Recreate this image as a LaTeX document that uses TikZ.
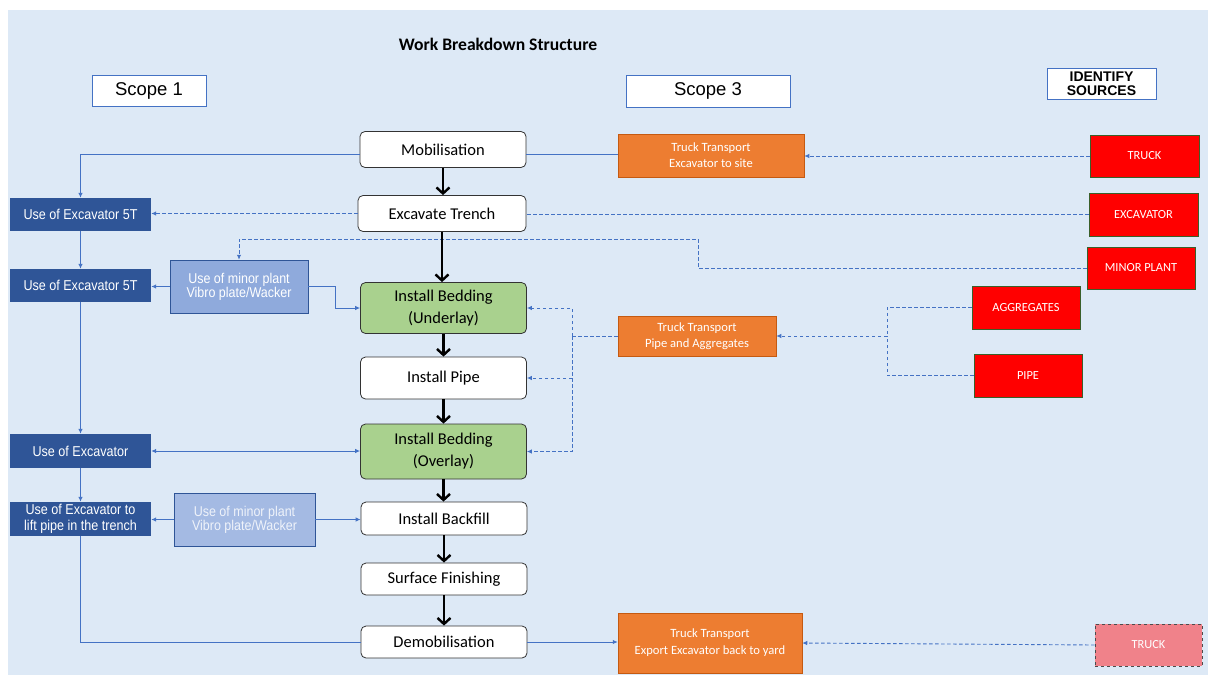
\documentclass[tikz,border=0pt]{standalone}
\usepackage{fontspec}
\setmainfont{Carlito}
\newfontfamily\arialn[FakeStretch=0.88]{Liberation Sans}
\newfontfamily\arial{Liberation Sans}
\usetikzlibrary{arrows.meta,calc}
\definecolor{bg}{HTML}{DDE9F6}
\definecolor{conc}{HTML}{4472C4}
\definecolor{dkb}{HTML}{2F5597}
\definecolor{ltb}{HTML}{8FAADC}
\definecolor{ltb2}{HTML}{A4BAE3}
\definecolor{grn}{HTML}{A9D18E}
\definecolor{org}{HTML}{ED7D31}
\definecolor{orgd}{HTML}{C55A11}
\definecolor{redd}{HTML}{3A5F2A}
\definecolor{pink}{HTML}{F0828A}
\tikzset{
  stepbox/.style={draw=black!80, line width=0.8pt, rounded corners=5pt, fill=white, minimum width=166pt, minimum height=36pt, font=\fontsize{16.5}{20}\selectfont, align=center, inner sep=1pt},
  greenbox/.style={stepbox, fill=grn},
  dkbox/.style={fill=dkb, text=white, minimum width=141pt, minimum height=33pt, font=\arialn\fontsize{14.3}{15}\selectfont, align=center, inner sep=1pt},
  ltbox/.style={fill=ltb, draw=dkb, line width=0.5pt, text=white, minimum width=138pt, minimum height=53pt, font=\arialn\fontsize{14.2}{14}\selectfont, align=center, inner sep=1pt},
  orgbox/.style={fill=org, draw=orgd, line width=0.5pt, text=white, font=\fontsize{12.6}{16}\selectfont, align=center, inner sep=1pt},
  redbox/.style={fill=red, draw=redd, line width=0.6pt, text=white, minimum width=108pt, minimum height=42pt, font=\fontsize{12.4}{14}\selectfont, align=center, inner sep=1pt},
  scopebox/.style={fill=white, draw=conc, line width=0.6pt, font=\arial\fontsize{18.5}{20}\selectfont, align=center, inner sep=1pt},
  conn/.style={draw=conc, line width=0.9pt},
  dconn/.style={draw=conc, line width=0.9pt, dash pattern=on 3.5pt off 2.5pt},
  tip/.style={-{Latex[length=5pt,width=4.5pt]}},
  flow/.style={line width=2.4pt, -{Straight Barb[length=6pt,width=13pt]}}
}
\begin{document}
\begin{tikzpicture}[x=1pt,y=-1pt]
\useasboundingbox (0,0) rectangle (1208,675);
\fill[white] (0,0) rectangle (1208,675);
\fill[bg] (8,10) rectangle (1208,675);

\node[font=\bfseries\fontsize{17.6}{19}\selectfont] (title) at (498,44) {Work Breakdown Structure};
\node[scopebox, minimum width=114pt, minimum height=31pt] (scope1) at (149,90.5) {Scope 1};
\node[scopebox, minimum width=164pt, minimum height=32pt] (scope3) at (708,91) {Scope 3};
\node[scopebox, minimum width=109pt, minimum height=31pt, font=\arial\bfseries\fontsize{14}{14.5}\selectfont] (ident) at (1101.5,83.5) {IDENTIFY\\SOURCES};

% centre column
\node[stepbox] (mob) at (443,149.5) {Mobilisation};
\node[stepbox, minimum width=168pt] (exc) at (442,213.5) {Excavate Trench};
\node[greenbox, minimum height=51pt] (bedU) at (443.5,308) {Install Bedding\\[2pt](Underlay)};
\node[stepbox, minimum height=42pt] (pipe) at (443.5,378) {Install Pipe};
\node[greenbox, minimum height=55pt] (bedO) at (443.5,451.5) {Install Bedding\\[2pt](Overlay)};
\node[stepbox, minimum height=33pt] (back) at (444,518.5) {Install Backfill};
\node[stepbox, minimum height=32pt] (surf) at (444,579) {Surface Finishing};
\node[stepbox, minimum height=32pt] (demob) at (444,642) {Demobilisation};

% left column
\node[dkbox] (ex1) at (80.5,214.5) {Use of Excavator 5T};
\node[dkbox] (ex2) at (80.5,285.5) {Use of Excavator 5T};
\node[dkbox, minimum height=34pt] (ex3) at (80.5,451) {Use of Excavator};
\node[dkbox, minimum height=34pt, font=\arialn\fontsize{14.3}{16}\selectfont] (ex4) at (80.5,519) {Use of Excavator to\\lift pipe in the trench};
\node[ltbox] (mp1) at (239,286.5) {Use of minor plant\\Vibro plate/Wacker};
\node[ltbox, fill=ltb2, text=white!82!ltb2, minimum width=141pt] (mp2) at (244.5,519.5) {Use of minor plant\\Vibro plate/Wacker};

% orange
\node[orgbox, minimum width=186pt, minimum height=43pt] (tt1) at (711,155.5) {Truck Transport\\Excavator to site};
\node[orgbox, minimum width=158pt, minimum height=40pt] (tt2) at (697,336) {Truck Transport\\Pipe and Aggregates};
\node[orgbox, minimum width=184pt, minimum height=60pt, font=\fontsize{12.6}{17}\selectfont] (tt3) at (710,643) {Truck Transport\\Export Excavator back to yard};

% red
\node[redbox, minimum width=109pt] (rtruck) at (1144.5,156) {TRUCK};
\node[redbox, minimum width=109pt, minimum height=43pt] (rexc) at (1143.5,214.5) {EXCAVATOR};
\node[redbox] (rminor) at (1141,268) {MINOR PLANT};
\node[redbox, minimum height=43pt] (ragg) at (1026,307.5) {AGGREGATES};
\node[redbox, minimum height=43pt] (rpipe) at (1028,375.5) {PIPE};
\node[redbox, fill=pink, draw=black!70, dashed, minimum width=107pt] (rtruck2) at (1148.5,645) {TRUCK};

% connectors
\coordinate (m1) at (698,239);
\draw[dconn, tip] (rminor.west) -| (m1) -| (mp1.north);
\draw[conn, tip] ([yshift=-5pt]mob.west) -| (ex1.north);
\draw[conn] ([yshift=-5pt]mob.east) -- ([yshift=-5pt]mob.east -| tt1.west);
\draw[dconn, tip] (rtruck.west) -- (rtruck.west -| tt1.east);
\draw[dconn, tip] (exc.west) -- (exc.west -| ex1.east);
\draw[dconn] (rexc.west) -- (rexc.west -| exc.east);
\draw[conn, tip] (ex1.south) -- (ex2.north);
\draw[conn, tip] (mp1.west) -- (mp1.west -| ex2.east);
\draw[conn, tip] (mp1.east) -- ++(27,0) |- (bedU.west);
\draw[conn, tip] (ex2.south) -- (ex3.north);
\draw[conn, {Latex[length=5pt,width=4.5pt]}-{Latex[length=5pt,width=4.5pt]}] (ex3.east) -- (ex3.east -| bedO.west);
\draw[conn, tip] (ex3.south) -- (ex4.north);
\draw[conn, tip] (mp2.west) -- (mp2.west -| ex4.east);
\draw[conn, tip] (mp2.east) -- (mp2.east -| back.west);
\draw[conn] (ex4.south) |- (demob.west);
\draw[conn, tip] (demob.east) -- (demob.east -| tt3.west);
\draw[dconn, tip] (rtruck2.west) -- (tt3.east);

\coordinate (v) at (572,336);
\draw[dconn] (tt2.west) -- (v);
\draw[dconn, tip] (v) |- (bedU.east);
\draw[dconn, tip] (v) |- (pipe.east);
\draw[dconn, tip] (v) |- (bedO.east);

\coordinate (a) at (887,336);
\draw[dconn] (ragg.west) -| (a);
\draw[dconn] (rpipe.west) -| (a);
\draw[dconn, tip] (a) -- (tt2.east);

% flow arrows
\draw[flow] (mob.south) -- (mob.south |- exc.north);
\draw[flow] (exc.south) -- (exc.south |- bedU.north);
\draw[flow] (bedU.south) -- (pipe.north);
\draw[flow] (pipe.south) -- (bedO.north);
\draw[flow] (bedO.south) -- (bedO.south |- back.north);
\draw[flow] (back.south) -- (surf.north);
\draw[flow] (surf.south) -- (demob.north);
\end{tikzpicture}
\end{document}
